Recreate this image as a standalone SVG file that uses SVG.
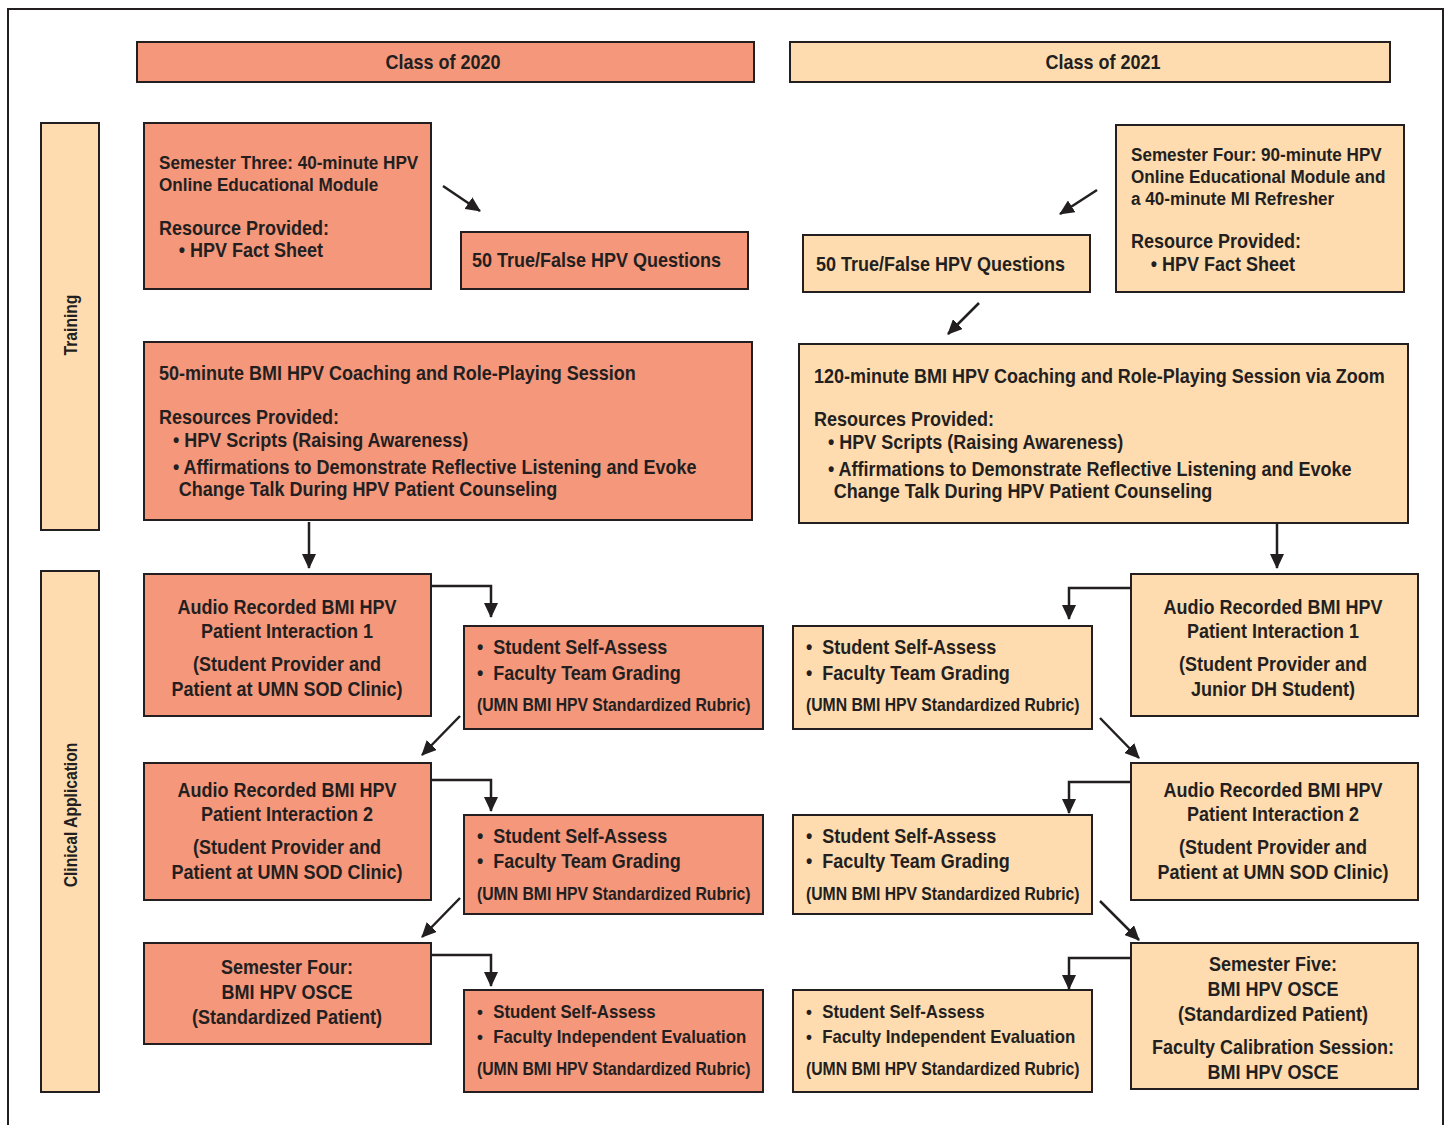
<svg xmlns="http://www.w3.org/2000/svg" width="1448" height="1125" viewBox="0 0 1448 1125">
<defs>
<style>
.sal{fill:#F5977B;stroke:#231F20;stroke-width:2}
.pea{fill:#FEDCAF;stroke:#231F20;stroke-width:2}
text{font-family:"Liberation Sans",Arial,sans-serif;font-weight:bold;fill:#231F20;font-size:20px}
.f19{font-size:19px}
.sm{font-size:17.5px}
.s3{font-size:18.7px}
.lane{font-size:18px}
.c{text-anchor:middle}
.con{fill:none;stroke:#231F20;stroke-width:2.5}
</style>
<marker id="ah" markerUnits="userSpaceOnUse" markerWidth="16" markerHeight="14" refX="14" refY="7" orient="auto">
<path d="M0,0 L15,7 L0,14 Z" fill="#231F20"/>
</marker>
</defs>
<rect width="1448" height="1125" fill="#fff"/>
<rect x="8" y="9" width="1435" height="1130" fill="none" stroke="#231F20" stroke-width="2"/>

<g id="header-2020"><rect class="sal" x="137" y="42" width="617" height="40"/><text class="c" transform="translate(443,69) scale(0.9,1)">Class of 2020</text></g>
<g id="header-2021"><rect class="pea" x="790" y="42" width="600" height="40"/><text class="c" transform="translate(1103,69) scale(0.9,1)">Class of 2021</text></g>

<g id="lane-training"><rect class="pea" x="41" y="123" width="58" height="407"/><text class="c lane" transform="translate(77,325) rotate(-90) scale(0.87,1)">Training</text></g>
<g id="lane-clinical"><rect class="pea" x="41" y="571" width="58" height="521"/><text class="c lane" transform="translate(77,815) rotate(-90) scale(0.87,1)">Clinical Application</text></g>

<g id="l-sem3"><rect class="sal" x="144" y="123" width="287" height="166"/>
<g transform="translate(159,0) scale(0.9,1)">
<text class="f19" x="0" y="169">Semester Three: 40-minute HPV</text>
<text class="f19" x="0" y="191">Online Educational Module</text>
<text x="0" y="235">Resource Provided:</text>
<text x="22" y="257">• HPV Fact Sheet</text></g></g>

<g id="l-tf"><rect class="sal" x="461" y="232" width="287" height="57"/><text transform="translate(472,267) scale(0.9,1)">50 True/False HPV Questions</text></g>

<g id="l-bmi"><rect class="sal" x="144" y="342" width="608" height="178"/>
<g transform="translate(159,0) scale(0.9,1)">
<text x="0" y="380">50-minute BMI HPV Coaching and Role-Playing Session</text>
<text x="0" y="424">Resources Provided:</text>
<text x="15.5" y="447">• HPV Scripts (Raising Awareness)</text>
<text x="15.5" y="474">• Affirmations to Demonstrate Reflective Listening and Evoke</text>
<text x="22" y="496">Change Talk During HPV Patient Counseling</text></g></g>

<g id="r-sem4"><rect class="pea" x="1116" y="125" width="288" height="167"/>
<g transform="translate(1131,0) scale(0.9,1)">
<text class="f19" x="0" y="161">Semester Four: 90-minute HPV</text>
<text class="f19" x="0" y="183">Online Educational Module and</text>
<text class="f19" x="0" y="205">a 40-minute MI Refresher</text>
<text x="0" y="248">Resource Provided:</text>
<text x="22" y="271">• HPV Fact Sheet</text></g></g>

<g id="r-tf"><rect class="pea" x="803" y="235" width="287" height="57"/><text transform="translate(816,271) scale(0.9,1)">50 True/False HPV Questions</text></g>

<g id="r-bmi"><rect class="pea" x="799" y="344" width="609" height="179"/>
<g transform="translate(814,0) scale(0.9,1)">
<text x="0" y="383">120-minute BMI HPV Coaching and Role-Playing Session via Zoom</text>
<text x="0" y="426">Resources Provided:</text>
<text x="15.5" y="449">• HPV Scripts (Raising Awareness)</text>
<text x="15.5" y="476">• Affirmations to Demonstrate Reflective Listening and Evoke</text>
<text x="22" y="498">Change Talk During HPV Patient Counseling</text></g></g>

<g id="l-audio1"><rect class="sal" x="144" y="574" width="287" height="142"/>
<g transform="translate(287,0) scale(0.9,1)">
<text class="c" x="0" y="614">Audio Recorded BMI HPV</text>
<text class="c" x="0" y="638">Patient Interaction 1</text>
<text class="c" x="0" y="671">(Student Provider and</text>
<text class="c" x="0" y="696">Patient at UMN SOD Clinic)</text></g></g>

<g id="l-sa1"><rect class="sal" x="464" y="626" width="299" height="103"/>
<g transform="translate(477,0) scale(0.9,1)">
<text x="0" y="654">•</text><text x="18" y="654">Student Self-Assess</text>
<text x="0" y="680">•</text><text x="18" y="680">Faculty Team Grading</text>
<text class="sm" x="0" y="711">(UMN BMI HPV Standardized Rubric)</text></g></g>

<g id="l-audio2"><rect class="sal" x="144" y="763" width="287" height="137"/>
<g transform="translate(287,0) scale(0.9,1)">
<text class="c" x="0" y="797">Audio Recorded BMI HPV</text>
<text class="c" x="0" y="821">Patient Interaction 2</text>
<text class="c" x="0" y="854">(Student Provider and</text>
<text class="c" x="0" y="879">Patient at UMN SOD Clinic)</text></g></g>

<g id="l-sa2"><rect class="sal" x="464" y="815" width="299" height="99"/>
<g transform="translate(477,0) scale(0.9,1)">
<text x="0" y="843">•</text><text x="18" y="843">Student Self-Assess</text>
<text x="0" y="868">•</text><text x="18" y="868">Faculty Team Grading</text>
<text class="sm" x="0" y="900">(UMN BMI HPV Standardized Rubric)</text></g></g>

<g id="l-osce"><rect class="sal" x="144" y="943" width="287" height="101"/>
<g transform="translate(287,0) scale(0.9,1)">
<text class="c" x="0" y="974">Semester Four:</text>
<text class="c" x="0" y="999">BMI HPV OSCE</text>
<text class="c" x="0" y="1024">(Standardized Patient)</text></g></g>

<g id="l-sa3"><rect class="sal" x="464" y="990" width="299" height="102"/>
<g transform="translate(477,0) scale(0.9,1)">
<text class="s3" x="0" y="1018">•</text><text class="s3" x="18" y="1018">Student Self-Assess</text>
<text class="s3" x="0" y="1043">•</text><text class="s3" x="18" y="1043">Faculty Independent Evaluation</text>
<text class="sm" x="0" y="1075">(UMN BMI HPV Standardized Rubric)</text></g></g>

<g id="r-audio1"><rect class="pea" x="1131" y="574" width="287" height="142"/>
<g transform="translate(1273,0) scale(0.9,1)">
<text class="c" x="0" y="614">Audio Recorded BMI HPV</text>
<text class="c" x="0" y="638">Patient Interaction 1</text>
<text class="c" x="0" y="671">(Student Provider and</text>
<text class="c" x="0" y="696">Junior DH Student)</text></g></g>

<g id="r-sa1"><rect class="pea" x="793" y="626" width="299" height="103"/>
<g transform="translate(806,0) scale(0.9,1)">
<text x="0" y="654">•</text><text x="18" y="654">Student Self-Assess</text>
<text x="0" y="680">•</text><text x="18" y="680">Faculty Team Grading</text>
<text class="sm" x="0" y="711">(UMN BMI HPV Standardized Rubric)</text></g></g>

<g id="r-audio2"><rect class="pea" x="1131" y="763" width="287" height="137"/>
<g transform="translate(1273,0) scale(0.9,1)">
<text class="c" x="0" y="797">Audio Recorded BMI HPV</text>
<text class="c" x="0" y="821">Patient Interaction 2</text>
<text class="c" x="0" y="854">(Student Provider and</text>
<text class="c" x="0" y="879">Patient at UMN SOD Clinic)</text></g></g>

<g id="r-sa2"><rect class="pea" x="793" y="815" width="299" height="99"/>
<g transform="translate(806,0) scale(0.9,1)">
<text x="0" y="843">•</text><text x="18" y="843">Student Self-Assess</text>
<text x="0" y="868">•</text><text x="18" y="868">Faculty Team Grading</text>
<text class="sm" x="0" y="900">(UMN BMI HPV Standardized Rubric)</text></g></g>

<g id="r-osce"><rect class="pea" x="1131" y="943" width="287" height="146"/>
<g transform="translate(1273,0) scale(0.9,1)">
<text class="c" x="0" y="971">Semester Five:</text>
<text class="c" x="0" y="996">BMI HPV OSCE</text>
<text class="c" x="0" y="1021">(Standardized Patient)</text>
<text class="c" x="0" y="1054">Faculty Calibration Session:</text>
<text class="c" x="0" y="1079">BMI HPV OSCE</text></g></g>

<g id="r-sa3"><rect class="pea" x="793" y="990" width="299" height="102"/>
<g transform="translate(806,0) scale(0.9,1)">
<text class="s3" x="0" y="1018">•</text><text class="s3" x="18" y="1018">Student Self-Assess</text>
<text class="s3" x="0" y="1043">•</text><text class="s3" x="18" y="1043">Faculty Independent Evaluation</text>
<text class="sm" x="0" y="1075">(UMN BMI HPV Standardized Rubric)</text></g></g>

<g id="connectors">
<path class="con" marker-end="url(#ah)" d="M443,186 L480,211"/>
<path class="con" marker-end="url(#ah)" d="M1097,190 L1060,214"/>
<path class="con" marker-end="url(#ah)" d="M979,303 L948,334"/>
<path class="con" marker-end="url(#ah)" d="M309,522 L309,568"/>
<path class="con" marker-end="url(#ah)" d="M1277,524 L1277,568"/>
<path class="con" marker-end="url(#ah)" d="M431,586 L491,586 L491,617"/>
<path class="con" marker-end="url(#ah)" d="M460,716 L422,755"/>
<path class="con" marker-end="url(#ah)" d="M431,780 L491,780 L491,811"/>
<path class="con" marker-end="url(#ah)" d="M460,898 L422,937"/>
<path class="con" marker-end="url(#ah)" d="M431,955 L491,955 L491,986"/>
<path class="con" marker-end="url(#ah)" d="M1131,588 L1069,588 L1069,619"/>
<path class="con" marker-end="url(#ah)" d="M1100,718 L1139,758"/>
<path class="con" marker-end="url(#ah)" d="M1131,782 L1069,782 L1069,813"/>
<path class="con" marker-end="url(#ah)" d="M1100,901 L1139,940"/>
<path class="con" marker-end="url(#ah)" d="M1131,958 L1069,958 L1069,989"/>
</g>
</svg>
